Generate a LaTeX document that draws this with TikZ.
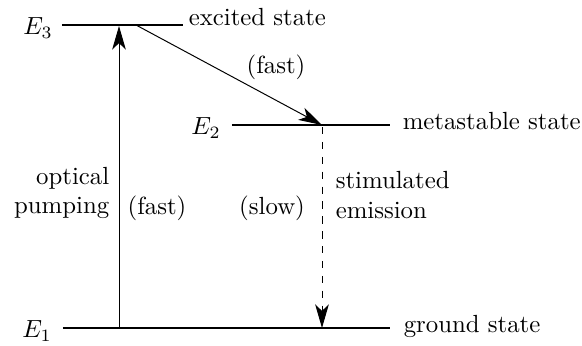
\documentclass[tikz,border=0pt]{standalone}
\usepackage{amsmath}
\usetikzlibrary{arrows.meta}

\begin{document}
\begin{tikzpicture}[x=0.01417cm,y=-0.01417cm,
  level/.style={thick},
  trans/.style={-{Stealth[length=9.5pt,width=5.5pt,inset=2.6pt]}}]
\useasboundingbox (0,0) rectangle (582,346);
% energy levels
\coordinate (e3l) at (62,25);  \coordinate (e3r) at (183,25);
\coordinate (e2l) at (232,125); \coordinate (e2r) at (390,125);
\coordinate (e1l) at (63,328); \coordinate (e1r) at (390,328);
\draw[level] (e3l) -- (e3r);
\draw[level] (e2l) -- (e2r);
\draw[level] (e1l) -- (e1r);
\node (E3) at (38,28) {$E_3$};
\node (E2) at (206,128) {$E_2$};
\node (E1) at (37,331) {$E_1$};
\node[anchor=west] (exc) at (180,17) {excited state};
\node[anchor=west] (meta) at (394,121) {metastable state};
\node[anchor=west] (gnd) at (395,326) {ground state};
% transitions
\coordinate (pumpa) at (119,328); \coordinate (pumpb) at (119,26);
\coordinate (fasta) at (136,25);  \coordinate (fastb) at (322,125);
\coordinate (emia) at (322,127);  \coordinate (emib) at (322,328);
\draw[trans] (pumpa) -- (pumpb);
\draw[trans] (fasta) -- (fastb);
\draw[trans,dashed] (emia) -- (emib);
\node (fast1) at (276,67) {(fast)};
\node[align=right,anchor=east] (pump) at (118,193) {optical\\pumping};
\node (fast2) at (157,208) {(fast)};
\node (slow) at (272,208) {(slow)};
\node[align=left,anchor=west] (stim) at (327,195) {stimulated\\emission};
\end{tikzpicture}
\end{document}
